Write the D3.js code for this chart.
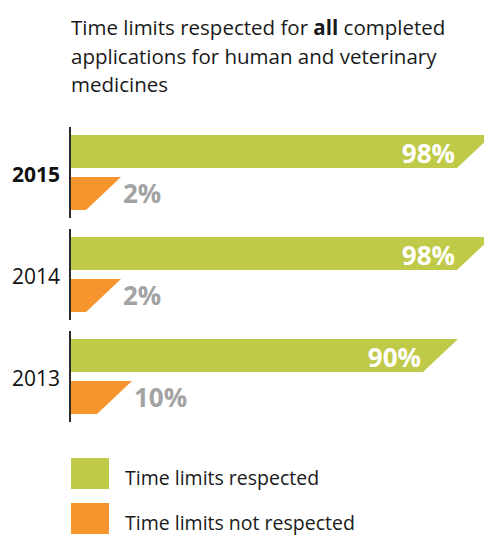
<!DOCTYPE html>
<html>
<head>
<meta charset="utf-8">
<script src="https://cdn.jsdelivr.net/npm/d3@7"></script>
<style>
  body { margin: 0; background: #fff; }
  text { font-family: "Open Sans", "Noto Sans", sans-serif; }
</style>
</head>
<body>
<div id="chart"></div>
<script>
var years = ["2015", "2014", "2013"];
var respected = [98, 98, 90];
var notRespected = [2, 2, 10];
var legendLabels = ["Time limits respected", "Time limits not respected"];

var green = "#bfca48",
    orange = "#f6942e",
    grey = "#a3a3a3";

var width = 484,
    height = 536,
    left = 71,
    slant = 35,
    barH = 33;

var svg = d3.select("#chart").append("svg")
  .attr("width", width)
  .attr("height", height);

// title
var title = svg.append("text")
  .attr("x", left)
  .attr("fill", "#1a1a1a")
  .style("font-size", "20.5px");
title.append("tspan").attr("x", left).attr("y", 35).text("Time limits respected for ")
  .append("tspan").style("font-weight", "bold").text("all");
title.select("tspan").append("tspan").text(" completed");
title.append("tspan").attr("x", left).attr("y", 64).text("applications for human and veterinary");
title.append("tspan").attr("x", left).attr("y", 92).text("medicines");

var y = d3.scaleBand()
  .domain(years)
  .range([127, 422])
  .paddingInner(0.108);

// bars aren't drawn to one common scale in the original, so one per series
var xGreen = d3.scaleLinear().domain([0, 100]).range([40.5, 465.5]);
var xOrange = d3.scaleLinear().domain([0, 100]).range([83.25, 220.75]);

function slantBar(x0, x1, top) {
  return "M" + x0 + "," + top +
    "L" + (x1 + slant) + "," + top +
    "L" + x1 + "," + (top + barH) +
    "L" + x0 + "," + (top + barH) + "Z";
}

var groups = svg.selectAll(".year")
  .data(years)
  .enter().append("g")
  .attr("class", "year");

groups.append("line")
  .attr("x1", 70).attr("x2", 70)
  .attr("y1", function(d) { return y(d); })
  .attr("y2", function(d) { return y(d) + y.bandwidth(); })
  .attr("stroke", "#2b2b2b")
  .attr("stroke-width", 2);

groups.append("text")
  .attr("x", 60)
  .attr("y", function(d) { return y(d) + 55; })
  .attr("text-anchor", "end")
  .attr("fill", "#111")
  .style("font-size", "21px")
  .style("font-weight", function(d, i) { return i == 0 ? "bold" : "normal"; })
  .text(function(d) { return d; });

groups.append("path")
  .attr("fill", green)
  .attr("d", function(d, i) { return slantBar(left, xGreen(respected[i]), y(d) + 8); });

groups.append("text")
  .attr("x", function(d, i) { return xGreen(respected[i]) - 2; })
  .attr("y", function(d) { return y(d) + 36; })
  .attr("text-anchor", "end")
  .attr("fill", "#fff")
  .style("font-size", "26px")
  .style("font-weight", "bold")
  .text(function(d, i) { return respected[i] + "%"; });

groups.append("path")
  .attr("fill", orange)
  .attr("d", function(d, i) { return slantBar(left, xOrange(notRespected[i]), y(d) + 50); });

groups.append("text")
  .attr("x", function(d, i) { return xOrange(notRespected[i]) + slant + 2; })
  .attr("y", function(d) { return y(d) + 76; })
  .attr("fill", grey)
  .style("font-size", "26px")
  .style("font-weight", "bold")
  .text(function(d, i) { return notRespected[i] + "%"; });

// legend
var legend = svg.selectAll(".legend")
  .data(legendLabels)
  .enter().append("g")
  .attr("class", "legend")
  .attr("transform", function(d, i) { return "translate(" + left + "," + (458 + i * 45) + ")"; });

legend.append("rect")
  .attr("width", 38)
  .attr("height", 31)
  .attr("fill", function(d, i) { return i == 0 ? green : orange; });

legend.append("text")
  .attr("x", 54)
  .attr("y", 27)
  .attr("fill", "#1a1a1a")
  .style("font-size", "19.5px")
  .text(function(d) { return d; });
</script>
</body>
</html>
